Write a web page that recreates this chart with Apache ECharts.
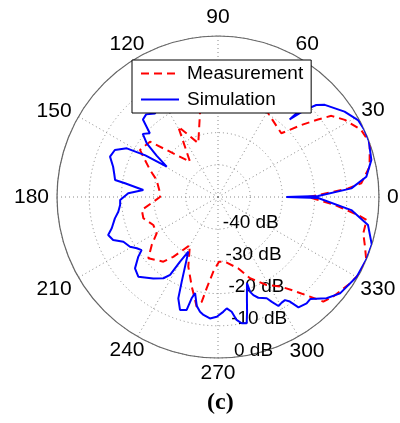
<!DOCTYPE html>
<html><head><meta charset="utf-8">
<script src="https://cdn.jsdelivr.net/npm/echarts@6/dist/echarts.min.js"></script>
<style>html,body{margin:0;padding:0;background:#fff}#c{width:400px;height:423px}</style>
</head><body><div id="c"></div>
<script>
// angle ticks (degrees) and radial ticks (dB)
const angleTicks = [0,30,60,90,120,150,180,210,240,270,300,330];
const dbTicks = [-50,-40,-30,-20,-10,0];

// Simulation (blue, solid): angle in degrees, level in dB
const simAngle = [0,0.6,3.7,7.8,13.6,20.6,24.8,28.8,34,40.8,43.1,45.1,47.3,46.8,48,
  52,57,63,69,75,82,88,95,101,108,114,120,124,
  127,131,134.1,136.9,140,143,146,149.4,150.2,151.9,155.5,159.5,163.9,167.5,170.6,171.6,174.6,177.6,
  181.8,184.7,188.4,191.7,196.4,199.1,202.3,205.3,209.5,212.3,214.8,216.8,220.7,225,231.5,236.1,238.4,239.6,241.5,
  244.7,246.8,248.6,251.4,254.5,255.4,256.6,259,261.1,263,266.2,269.4,272.6,274.5,276.8,278.6,280.6,282.8,
  284.2,285.7,288.6,288.7,289.8,291.8,295.7,297.2,299,301.1,303,304.5,306.1,309.8,312.1,317,321.7,330.1,337.5,342.8,349.4,354.4,359.4,360];
const simDb = [-28.8,-18.9,-8.5,-3.5,-1.0,0,0,-0.4,-2.6,-6.2,-8.2,-11.9,-17.2,-14,-11,
  -9,-12,-15,-12,-17,-13,-18,-14,-19,-15,-19,-14,-16,
  -17.5,-16,-16.5,-21,-19.5,-22.3,-27,-31.5,-24,-17.9,-14.8,-14.2,-16.1,-17,-17.6,-20.8,-26.7,-22.1,
  -19.6,-19.5,-18.7,-17.3,-15.6,-13.9,-14.8,-17.5,-18.6,-20.2,-21.1,-19.1,-16,-15,-17.7,-19.6,-21.6,-26.7,-30.7,
  -26,-21.4,-16.2,-13,-13.6,-17.5,-19.3,-15.5,-13.9,-13.1,-12.2,-12.8,-14.3,-15.3,-14.1,-11.4,-10.1,-9.8,
  -13.2,-16.8,-21.8,-18.9,-17.6,-16.3,-15.1,-13.4,-11.3,-11.7,-11.8,-10.6,-7.6,-7,-7.3,-3.9,-1.7,-0.3,0,0,-2.6,-8.4,-18.9,-28.8];

// Measurement (red, dashed)
const measAngle = [0,1.1,3.8,5.5,11.3,19.5,25.1,31.3,35.6,37.8,40.8,45.2,59.1,
  63,70,77,84,91,97,
  102.1,110.1,119.5,128.4,140.9,148.9,151.6,158.3,164.5,176.4,180,189.7,195.9,203.4,210.6,215.9,221.3,229.8,233.2,239.7,
  246.9,253.7,259,261.2,262.9,266.4,270.9,275.9,285.7,291.5,298.9,305.2,309,312.7,315.2,319.2,326.8,331.7,337,341.3,346,351.2,352.7,356.1,360];
const measDb = [-22,-18.9,-9.5,-5.3,-2,0,-0.9,-3.9,-6.7,-10.7,-15.8,-22.1,-19.7,
  -12,-15,-10,-14,-11,-16,
  -23.3,-32.2,-24.9,-36,-22.8,-21.7,-23.6,-27.3,-30.2,-32,-32,-26,-25.9,-28.1,-27.9,-24.6,-21.2,-23.7,-26.8,-32.7,
  -26.5,-21,-15.3,-17.1,-21.4,-26.8,-29.9,-29.8,-27,-22.9,-18.8,-15.9,-12.5,-7.9,-3.9,-2.7,-1,0,0,-1.8,-3.5,-3.3,-6.2,-13.7,-22];

const seriesNames = ['Measurement','Simulation'];

const chart = echarts.init(document.getElementById('c'), null, {renderer:'canvas'});
const FONT = 'Liberation Sans, Arial, sans-serif';
const center = [218, 197], R = 161;

// per-label nudges so angle labels sit centred on a ring, as in the original plot
const labelPad = {
  30:[0,0,-8,-3], 60:[0,0,-4,-7], 120:[0,-11,-4,0], 150:[0,0,-9,0],
  210:[-3,0,0,0], 240:[-4,-11,0,0], 270:[-3,0,0,0], 300:[-3,0,0,-13], 330:[-3,0,0,-4]
};
const rich = {};
angleTicks.forEach(t => {
  rich['t'+t] = {fontSize:21, fontFamily:FONT, color:'#000', padding: labelPad[t] || [0,0,0,0]};
});

chart.setOption({
  backgroundColor:'#fff',
  animation:false,
  title:{text:'{a|(}{b|c}{a|)}', left:202, top:386,
    textStyle:{rich:{a:{fontFamily:'Liberation Serif',fontSize:24,color:'#000'},b:{fontFamily:'Liberation Serif',fontSize:24,fontWeight:'bold',color:'#000'}}}},
  polar:[{center:center, radius:R},{center:center, radius:R}],
  angleAxis:[{
    polarIndex:0, type:'value', min:0, max:360, interval:30, startAngle:0, clockwise:false,
    axisLine:{show:true, lineStyle:{color:'#666', width:1.2}},
    axisTick:{show:false},
    splitLine:{show:true, lineStyle:{color:'#888', type:[1,3], width:1}},
    axisLabel:{show:true, margin:8, color:'#000', fontSize:21, fontFamily:FONT, rich:rich,
      formatter:v=> angleTicks.indexOf(v)>=0 ? '{t'+v+'|'+v+'}' : ''}
  },{
    polarIndex:1, type:'value', min:0, max:360, startAngle:-85, clockwise:false,
    axisLine:{show:false}, axisTick:{show:false}, splitLine:{show:false}, axisLabel:{show:false}
  }],
  radiusAxis:[{
    polarIndex:0, type:'value', min:dbTicks[0], max:dbTicks[dbTicks.length-1], interval:10,
    axisLine:{show:false}, axisTick:{show:false}, axisLabel:{show:false},
    splitLine:{show:true, lineStyle:{color:'#888', type:[1,3], width:1}}
  },{
    polarIndex:1, type:'value', min:dbTicks[0], max:dbTicks[dbTicks.length-1], interval:10,
    axisLine:{show:false}, axisTick:{show:false}, splitLine:{show:false},
    axisLabel:{show:true, color:'#000', fontSize:19, fontFamily:FONT, margin:2,
      align:'left', verticalAlign:'bottom', padding:[0,0,-3,0],
      formatter:v=> (v===dbTicks[0] ? '' : v+' dB')}
  }],
  legend:{
    left:132, top:60, orient:'vertical', itemGap:7, itemWidth:38, itemHeight:14,
    padding:[4,8,4,8], backgroundColor:'#fff', borderColor:'#000', borderWidth:1, borderRadius:0,
    itemStyle:{color:'rgba(0,0,0,0)', borderColor:'rgba(0,0,0,0)', borderWidth:0, opacity:0},
    textStyle:{fontSize:19, fontFamily:FONT, color:'#000', padding:[0,0,0,3]},
    data:seriesNames
  },
  series:[{
    name:seriesNames[0], type:'line', coordinateSystem:'polar', polarIndex:0,
    symbol:'none', showSymbol:false, clip:false,
    lineStyle:{color:'#ff0000', width:2, type:[8,5]},
    itemStyle:{color:'#ff0000'},
    data: measAngle.map((a,i)=>[measDb[i], a])
  },{
    name:seriesNames[1], type:'line', coordinateSystem:'polar', polarIndex:0,
    symbol:'none', showSymbol:false, clip:false,
    lineStyle:{color:'#0000ff', width:2},
    itemStyle:{color:'#0000ff'},
    data: simAngle.map((a,i)=>[simDb[i], a])
  }]
});
</script></body></html>
